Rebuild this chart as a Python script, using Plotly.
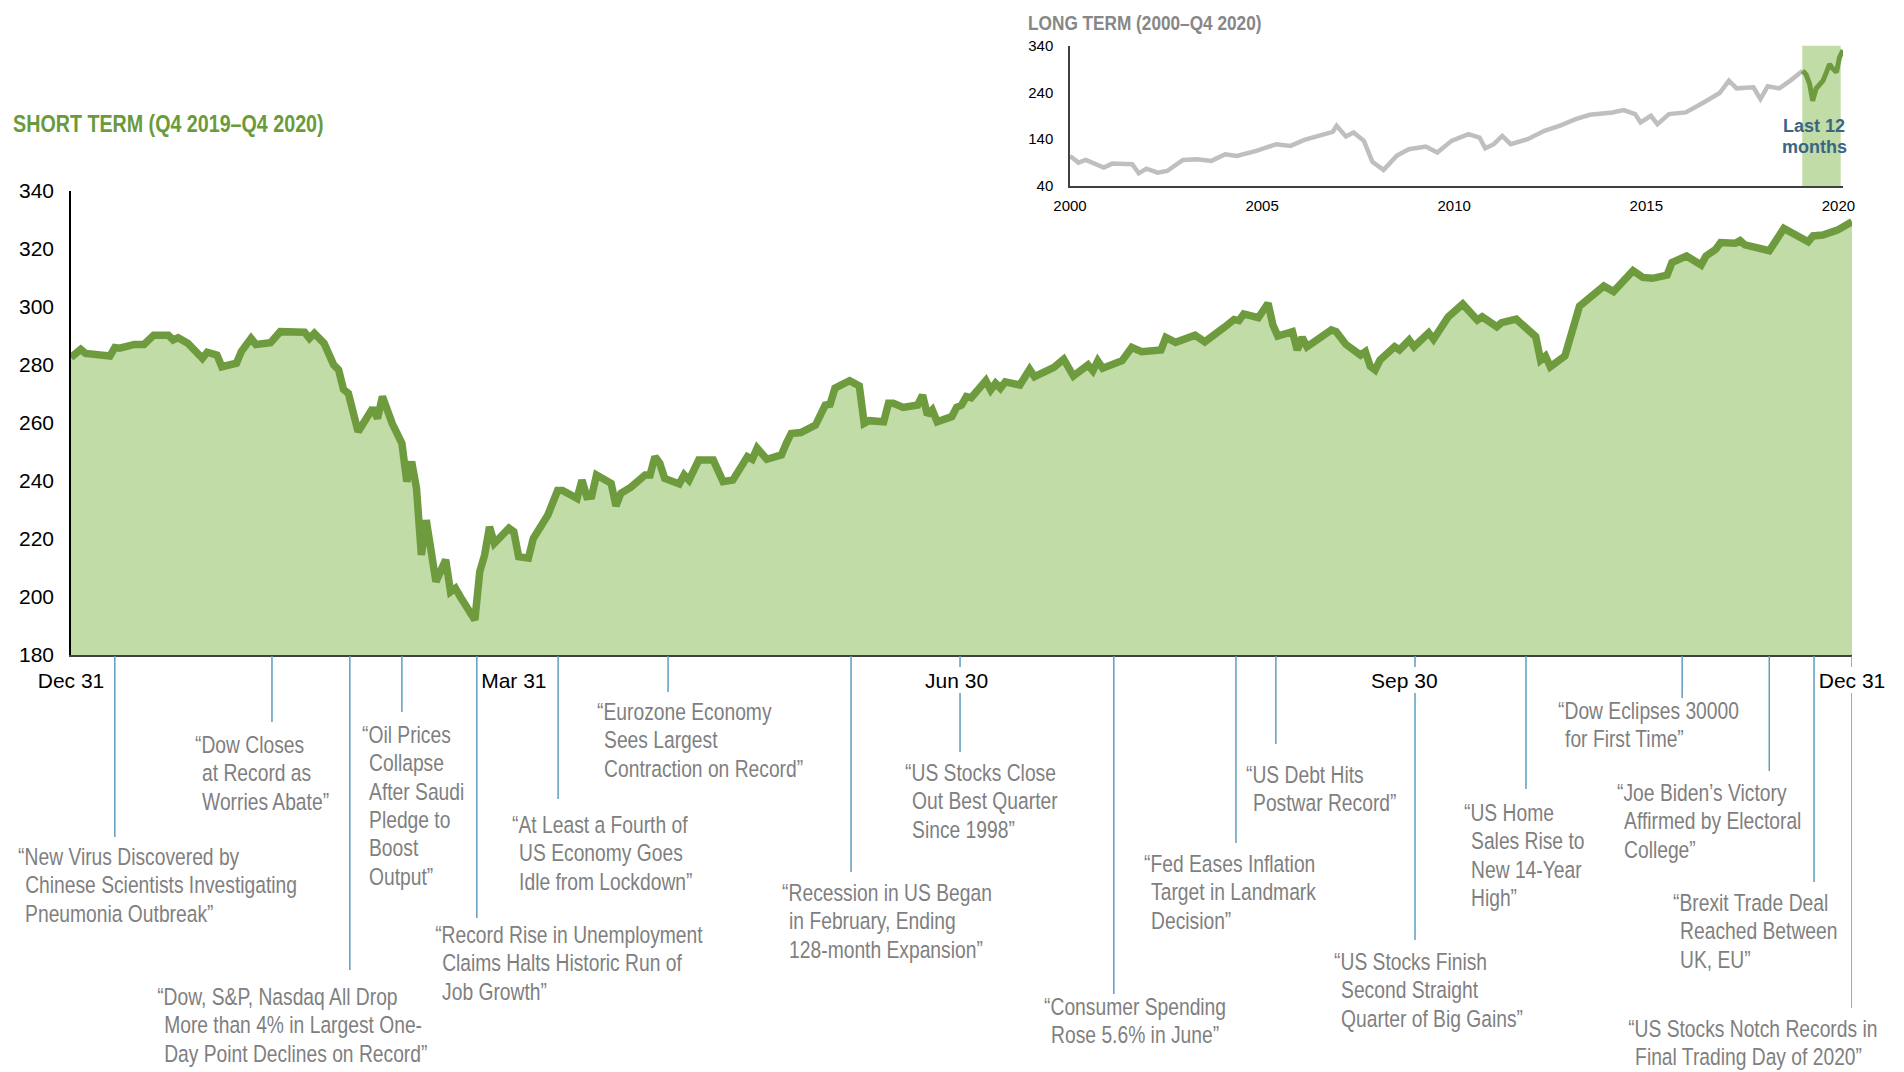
import pandas as pd
import plotly.graph_objects as go

# ---------------- DATA ----------------
# Short term: index level, days after Dec 31, 2019
st_day = [0, 2, 3, 8, 9, 10, 13, 15, 17, 20,
          21, 22, 24, 27, 28, 30, 31, 34, 35, 37,
          38, 41, 43, 48, 49, 50, 52, 54, 55, 56,
          57, 58, 59, 62, 63, 64, 66, 68, 69, 70,
          71, 72, 73, 75, 77, 78, 79, 80, 83, 84,
          85, 86, 87, 90, 91, 92, 94, 95, 97, 98,
          100, 101, 104, 105, 106, 107, 108, 111, 112, 113,
          115, 118, 119, 120, 121, 122, 125, 126, 127, 129,
          132, 134, 136, 139, 140, 141, 143, 146, 147, 148,
          150, 153, 155, 156, 157, 160, 162, 163, 164, 167,
          168, 169, 171, 174, 175, 176, 177, 178, 181, 182,
          183, 184, 185, 188, 189, 190, 191, 192, 195, 197,
          198, 202, 204, 206, 209, 210, 211, 212, 216, 218,
          220, 224, 225, 227, 231, 233, 237, 239, 240, 241,
          244, 246, 247, 248, 251, 252, 253, 254, 259, 260,
          262, 265, 266, 267, 268, 269, 272, 273, 275, 276,
          279, 280, 283, 286, 289, 290, 293, 294, 297, 300,
          301, 302, 303, 304, 307, 310, 314, 315, 317, 321,
          323, 325, 328, 329, 332, 335, 336, 338, 339, 342,
          343, 344, 349, 352, 357, 358, 360, 363, 366]
st_value = [282.6, 285.4, 284.0, 283.1, 286.0, 285.8, 287.1, 287.1, 290.3, 290.3,
            288.6, 289.4, 287.5, 282.3, 284.4, 283.4, 279.4, 280.6, 284.6, 289.2,
            287.1, 287.7, 291.5, 291.3, 289.2, 290.9, 287.5, 280.0, 278.3, 271.6,
            270.2, 262.2, 257.0, 265.1, 261.6, 269.1, 259.9, 253.0, 239.8, 246.7,
            237.5, 214.5, 226.5, 205.3, 212.8, 201.8, 203.0, 200.1, 192.1, 208.7,
            214.5, 224.2, 218.5, 223.7, 222.5, 213.9, 213.4, 220.2, 226.5, 228.3,
            236.7, 236.7, 234.0, 240.3, 234.6, 234.8, 242.1, 239.2, 231.4, 235.8,
            237.8, 242.1, 242.1, 248.4, 246.1, 240.9, 239.0, 242.1, 240.3, 247.2,
            247.2, 239.8, 240.3, 248.4, 247.5, 251.3, 247.5, 249.0, 253.0, 256.4,
            256.7, 259.3, 266.2, 266.5, 272.0, 274.6, 272.8, 259.9, 260.8, 260.4,
            266.8, 266.8, 265.4, 266.2, 269.6, 262.8, 264.5, 260.4, 262.2, 265.4,
            266.2, 269.1, 268.7, 274.6, 271.4, 273.7, 272.0, 274.2, 273.1, 278.5,
            276.0, 279.2, 282.0, 276.2, 280.0, 278.0, 281.4, 278.9, 281.5, 286.1,
            284.6, 285.2, 289.5, 287.8, 290.3, 288.0, 293.0, 295.7, 295.3, 297.6,
            296.3, 301.3, 293.8, 290.0, 291.5, 285.2, 289.5, 286.3, 292.1, 291.5,
            287.1, 283.4, 284.6, 279.6, 278.3, 281.7, 286.3, 285.2, 288.6, 286.3,
            291.1, 288.9, 296.6, 301.0, 295.5, 296.6, 293.2, 294.6, 295.8, 290.7,
            289.8, 281.7, 283.1, 279.4, 283.1, 300.3, 305.3, 307.2, 305.3, 312.5,
            310.2, 309.9, 311.0, 315.3, 317.6, 314.5, 317.6, 319.9, 322.2, 322.0,
            322.9, 321.4, 319.4, 327.1, 322.5, 324.5, 324.8, 326.5, 329.4]

st_tick_day = [0, 91, 182, 274, 366]
st_tick_text = ["Dec 31", "Mar 31", "Jun 30", "Sep 30", "Dec 31"]
st_y_ticks = [180, 200, 220, 240, 260, 280, 300, 320, 340]

# Long term (2000 - Q4 2020), decimal years
lt_year = [2000.00, 2000.22, 2000.41, 2000.66, 2000.88, 2001.10, 2001.62, 2001.79, 2001.99, 2002.28,
           2002.53, 2002.94, 2003.31, 2003.68, 2004.04, 2004.34, 2004.85, 2005.37, 2005.74, 2006.10,
           2006.62, 2006.84, 2006.94, 2007.18, 2007.38, 2007.65, 2007.87, 2008.16, 2008.50, 2008.82,
           2009.26, 2009.56, 2009.93, 2010.37, 2010.66, 2010.81, 2011.03, 2011.25, 2011.47, 2011.91,
           2012.35, 2012.79, 2013.16, 2013.53, 2014.12, 2014.41, 2014.71, 2014.85, 2015.12, 2015.29,
           2015.59, 2016.03, 2016.47, 2016.91, 2017.15, 2017.35, 2017.79, 2017.97, 2018.16, 2018.46,
           2018.75, 2019.07]
lt_value = [104.3, 90.0, 95.7, 86.4, 79.3, 87.8, 86.4, 67.1, 77.1, 68.6,
            72.1, 95.7, 97.1, 93.6, 107.8, 104.3, 115.0, 129.3, 125.7, 138.6,
            150.7, 155.7, 168.6, 145.7, 154.2, 136.4, 91.4, 74.3, 104.3, 118.5,
            124.3, 111.4, 136.4, 150.7, 143.5, 120.7, 129.3, 147.1, 129.3, 140.0,
            157.8, 170.0, 182.8, 192.1, 197.1, 202.1, 193.5, 175.7, 190.0, 172.1,
            193.5, 197.1, 217.1, 238.5, 265.0, 248.5, 250.6, 225.6, 252.8, 248.5,
            265.0, 286.0]
lt_recent_year = [2019.07, 2019.16, 2019.25, 2019.33, 2019.42, 2019.51, 2019.60,
                  2019.68, 2019.77, 2019.86, 2019.95, 2020.03, 2020.12]
lt_recent_value = [286, 278, 258, 222, 248, 258, 265, 281, 300, 290, 283, 315, 330]
lt_x_ticks = [2000, 2005, 2010, 2015, 2020]
lt_y_ticks = [40, 140, 240, 340]

# Headlines (day after Dec 31, 2019 at which each is pinned)
ev_day = [9.0, 41.3, 57.3, 68.0, 83.4, 100.1, 122.7, 160.3, 182.7,
          214.3, 239.4, 247.6, 276.2, 299.0, 331.1, 349.0, 358.2, 366.0]
ev_lines = [
    ["“New Virus Discovered by", "Chinese Scientists Investigating", "Pneumonia Outbreak”"],
    ["“Dow Closes", "at Record as", "Worries Abate”"],
    ["“Dow, S&P, Nasdaq All Drop", "More than 4% in Largest One-", "Day Point Declines on Record”"],
    ["“Oil Prices", "Collapse", "After Saudi", "Pledge to", "Boost", "Output”"],
    ["“Record Rise in Unemployment", "Claims Halts Historic Run of", "Job Growth”"],
    ["“At Least a Fourth of", "US Economy Goes", "Idle from Lockdown”"],
    ["“Eurozone Economy", "Sees Largest", "Contraction on Record”"],
    ["“Recession in US Began", "in February, Ending", "128-month Expansion”"],
    ["“US Stocks Close", "Out Best Quarter", "Since 1998”"],
    ["“Consumer Spending", "Rose 5.6% in June”"],
    ["“Fed Eases Inflation", "Target in Landmark", "Decision”"],
    ["“US Debt Hits", "Postwar Record”"],
    ["“US Stocks Finish", "Second Straight", "Quarter of Big Gains”"],
    ["“US Home", "Sales Rise to", "New 14-Year", "High”"],
    ["“Dow Eclipses 30000", "for First Time”"],
    ["“Joe Biden’s Victory", "Affirmed by Electoral", "College”"],
    ["“Brexit Trade Deal", "Reached Between", "UK, EU”"],
    ["“US Stocks Notch Records in", "Final Trading Day of 2020”"],
]

# ---------------- LAYOUT (pixels in the 1904x1072 page) ----------------
W, H = 1904, 1072
ev_text_x = [18, 195, 157, 362, 435, 512, 597, 782, 905, 1044, 1144, 1246, 1334, 1464, 1558, 1617, 1673, 1628]
ev_text_y = [857, 745, 997, 735, 935, 825, 712, 893, 773, 1007, 864, 775, 962, 813, 711, 793, 903, 1029]
ev_line_end = [837, 722, 970, 712, 918, 799, 692, 872, 752, 994, 843, 744, 940, 789, 698, 771, 882, 1008]
LINE_H = 28.3
INDENT = 7
AXIS_Y = 655

NARROW = "Liberation Sans Narrow, Liberation Sans, Arial, sans-serif"
ARIAL = "Liberation Sans, Arial, sans-serif"
GREEN = "#6f9b3f"
FILL = "#c1dca7"
GREY_TXT = "#7f7f7f"
LEADER = "#5e9dbf"


def px(x):
    return x / W


def py(y):
    return 1 - y / H


start = pd.Timestamp("2019-12-31")
st_dates = start + pd.to_timedelta(st_day, unit="D")
tick_dates = start + pd.to_timedelta(st_tick_day, unit="D")

fig = go.Figure()
fig.add_trace(go.Scatter(
    x=st_dates, y=st_value, mode="lines", fill="tozeroy", fillcolor=FILL,
    line=dict(color=GREEN, width=7.5), xaxis="x", yaxis="y", hoverinfo="skip"))
fig.add_trace(go.Scatter(
    x=lt_year, y=lt_value, mode="lines", line=dict(color="#bfbfbf", width=4.5),
    xaxis="x2", yaxis="y2", hoverinfo="skip"))
fig.add_trace(go.Scatter(
    x=lt_recent_year, y=lt_recent_value, mode="lines", line=dict(color=GREEN, width=5),
    xaxis="x2", yaxis="y2", hoverinfo="skip"))

shapes = []
annotations = []

# green band in inset
shapes.append(dict(type="rect", xref="x2", yref="y2", x0=2019.06, x1=2020.06, y0=40, y1=340,
                   fillcolor=FILL, line=dict(width=0), layer="below"))

# leader lines and headline text
for i, d in enumerate(ev_day):
    dt = start + pd.to_timedelta(d, unit="D")
    near_tick = min(abs(d - t) for t in st_tick_day) < 7
    segs = [(AXIS_Y + 1, 667), (693, ev_line_end[i])] if near_tick else [(AXIS_Y + 1, ev_line_end[i])]
    for y0, y1 in segs:
        shapes.append(dict(type="line", xref="x", yref="paper", x0=dt, x1=dt,
                           y0=py(y0), y1=py(y1), line=dict(color=LEADER, width=1.5)))
    for j, line in enumerate(ev_lines[i]):
        annotations.append(dict(
            x=px(ev_text_x[i] + (INDENT if j > 0 else 0)), y=py(ev_text_y[i] + j * LINE_H),
            xref="paper", yref="paper", xanchor="left", yanchor="middle", showarrow=False,
            text=line, borderpad=0, borderwidth=0,
            font=dict(family=NARROW, size=23.5, color=GREY_TXT)))

# titles
annotations.append(dict(x=px(13), y=py(123), xref="paper", yref="paper", xanchor="left",
                        yanchor="middle", showarrow=False, borderpad=0, borderwidth=0,
                        text="<b>SHORT TERM (Q4 2019–Q4 2020)</b>",
                        font=dict(family=NARROW, size=24, color="#6a9a3a")))
annotations.append(dict(x=px(1028), y=py(22), xref="paper", yref="paper", xanchor="left",
                        yanchor="middle", showarrow=False, borderpad=0, borderwidth=0,
                        text="<b>LONG TERM (2000–Q4 2020)</b>",
                        font=dict(family=NARROW, size=21, color="#878787")))
for t, yy in [("Last 12", 126), ("months", 147)]:
    annotations.append(dict(x=px(1814), y=py(yy), xref="paper", yref="paper", xanchor="center",
                            yanchor="middle", showarrow=False, borderpad=0, borderwidth=0,
                            text="<b>" + t + "</b>",
                            font=dict(family=ARIAL, size=18, color="#3a6585")))

fig.update_layout(
    template="none",
    width=W, height=H, margin=dict(l=0, r=0, t=0, b=0, autoexpand=False),
    paper_bgcolor="white", plot_bgcolor="rgba(0,0,0,0)",
    showlegend=False, hovermode=False,
    shapes=shapes, annotations=annotations,
    xaxis=dict(domain=[px(71), px(1852)], anchor="y", type="date", automargin=False,
               range=[tick_dates[0], tick_dates[-1]],
               tickvals=list(tick_dates), ticktext=st_tick_text,
               showgrid=False, zeroline=False, showline=True, linecolor="#404040", linewidth=2,
               ticks="", ticklabelstandoff=6,
               tickfont=dict(family=ARIAL, size=21, color="black")),
    yaxis=dict(domain=[py(AXIS_Y), py(191)], anchor="x", range=[180, 340], automargin=False,
               tickvals=st_y_ticks, showgrid=False, zeroline=False,
               showline=True, linecolor="black", linewidth=1.5, ticks="",
               ticklabelstandoff=11,
               tickfont=dict(family=ARIAL, size=21, color="black")),
    xaxis2=dict(domain=[px(1070), px(1843)], anchor="y2", range=[2000, 2020.12], automargin=False,
                tickvals=lt_x_ticks, ticktext=[str(v) for v in lt_x_ticks],
                showgrid=False, zeroline=False, showline=True, linecolor="#404040", linewidth=2,
                ticks="", ticklabelstandoff=5,
                tickfont=dict(family=ARIAL, size=15, color="black")),
    yaxis2=dict(domain=[py(186), py(45.5)], anchor="x2", range=[40, 340], automargin=False,
                tickvals=lt_y_ticks, showgrid=False, zeroline=False,
                showline=True, linecolor="#404040", linewidth=1.5, ticks="",
                ticklabelstandoff=12,
                tickfont=dict(family=ARIAL, size=15, color="black")),
)

# Page flush with the window; the headlines use a condensed face (Arial Narrow) that is
# not installed, so the regular face is condensed horizontally to the same 82% width.
page_js = """
document.body.style.margin = '0';
document.querySelectorAll('text.annotation-text').forEach(function (t) {
  var ff = t.style.fontFamily || '';
  if (ff.indexOf('Narrow') >= 0) {
    t.style.transformBox = 'fill-box';
    t.style.transformOrigin = '0% 50%';
    t.style.transform = 'scaleX(0.82)';
  }
});
"""

fig.write_html("out.html", post_script=page_js, config={"displayModeBar": False})
